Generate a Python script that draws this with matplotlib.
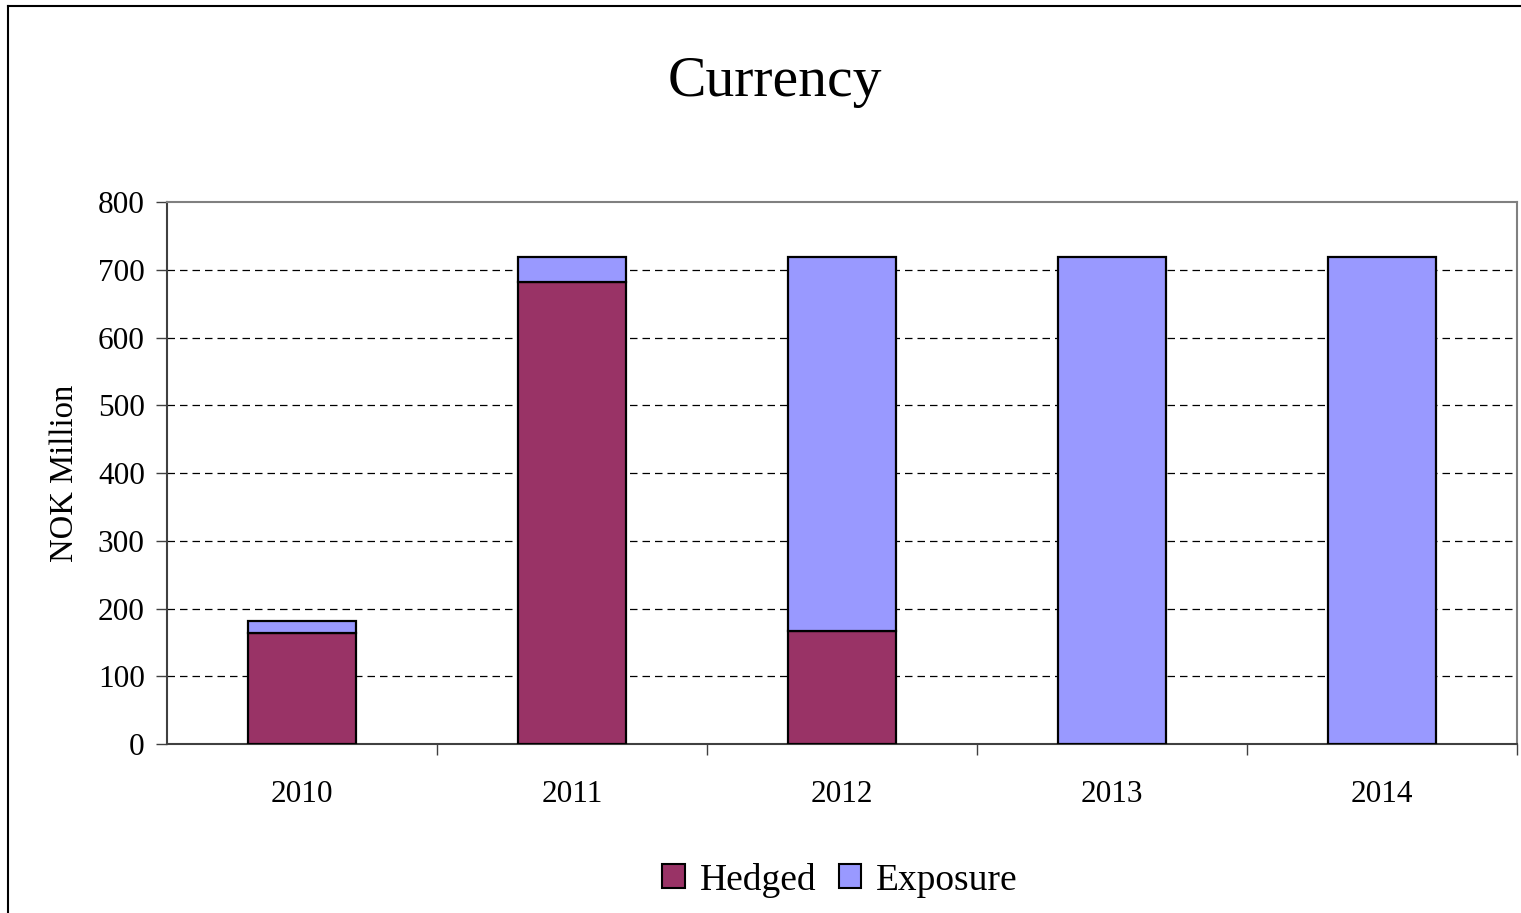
import matplotlib
matplotlib.use("Agg")
import matplotlib.pyplot as plt
from matplotlib.lines import Line2D
from matplotlib.patches import Patch
import numpy as np

years = ["2010", "2011", "2012", "2013", "2014"]
hedged = [164, 682, 167, 0, 0]
exposure = [18, 37, 552, 719, 719]
yticks = [0, 100, 200, 300, 400, 500, 600, 700, 800]

plt.rcParams['font.family'] = ['Liberation Serif', 'DejaVu Serif']

fig = plt.figure(figsize=(15.21, 9.13), dpi=100)
ax = fig.add_axes([167/1521, 1-744/913, (1517-167)/1521, (744-202)/913])

x = np.arange(len(years))
hed_c = "#993366"
exp_c = "#9999FF"
ax.bar(x, hedged, width=0.4, color=hed_c, edgecolor="black", linewidth=1.6, zorder=3)
ax.bar(x, exposure, width=0.4, bottom=hedged, color=exp_c, edgecolor="black", linewidth=1.6, zorder=3)

ax.set_xlim(-0.5, 4.5)
ax.set_ylim(0, 800)
ax.set_yticks(yticks)
ax.set_yticklabels([str(v) for v in yticks], fontsize=22.5)
for v in yticks[1:-1]:
    ax.axhline(v, color="black", linestyle=(0, (6, 4)), linewidth=0.9, zorder=1)

ax.set_xticks(np.arange(0.5, 5.0, 1.0))
ax.set_xticklabels([])
ax.set_xticks(x, minor=True)
ax.set_xticklabels(years, minor=True, fontsize=22.5)
ax.tick_params(axis='x', which='major', direction='out', length=8, width=1, color="#404040")
ax.tick_params(axis='x', which='minor', length=0, pad=26)
ax.tick_params(axis='y', direction='out', length=8, width=1, color="#404040", pad=8)

for s in ['top', 'right']:
    ax.spines[s].set_color("#808080")
    ax.spines[s].set_linewidth(1.5)
for s in ['left', 'bottom']:
    ax.spines[s].set_color("#404040")
    ax.spines[s].set_linewidth(1.5)

ax.set_ylabel("NOK Million", fontsize=23.5, labelpad=13)

fig.text(775/1521, 1-82/913, "Currency", fontsize=41.5, ha='center', va='center')

handles = [Patch(facecolor=hed_c, edgecolor="black", linewidth=1.5, label="Hedged"),
           Patch(facecolor=exp_c, edgecolor="black", linewidth=1.5, label="Exposure")]
fig.legend(handles=handles, loc='center', bbox_to_anchor=(840/1521, 1-880/913), ncol=2,
           frameon=False, fontsize=27, handlelength=0.6, handleheight=0.6,
           handletextpad=0.4, columnspacing=0.6)

fig.add_artist(Line2D([8/1521, 8/1521], [0, 1-6/913], color="black", linewidth=1.5, transform=fig.transFigure))
fig.add_artist(Line2D([8/1521, 1], [1-6/913, 1-6/913], color="black", linewidth=1.5, transform=fig.transFigure))

fig.savefig("out.png", dpi=100)
